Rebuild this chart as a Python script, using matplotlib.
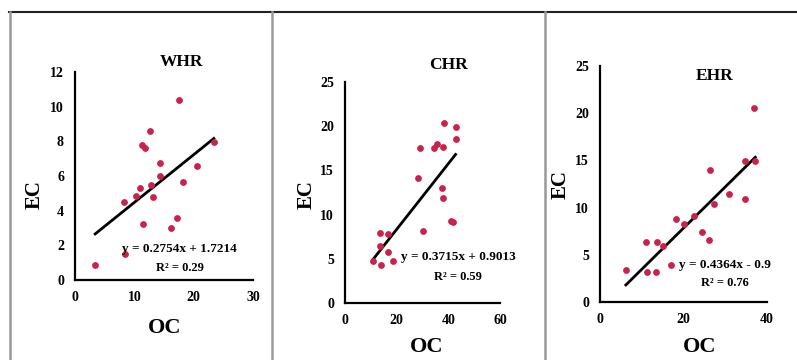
import matplotlib
matplotlib.use("Agg")
import matplotlib.pyplot as plt
import numpy as np
from matplotlib.lines import Line2D

plt.rcParams['font.family'] = ['Liberation Serif', 'DejaVu Serif']

# WHR
whr_oc = [3.4, 8.5, 8.3, 10.3, 11.0, 11.4, 11.3, 11.8, 12.7, 12.8, 13.1, 14.3, 14.4, 16.1, 17.2, 17.6, 18.2, 20.5, 23.4]
whr_ec = [0.87, 1.5, 4.5, 4.87, 5.3, 3.24, 7.8, 7.6, 8.6, 5.5, 4.8, 6.0, 6.76, 3.0, 3.57, 10.4, 5.64, 6.56, 7.95]
# CHR
chr_oc = [10.7, 13.5, 13.5, 13.9, 16.5, 16.5, 18.5, 28.1, 29.0, 30.3, 34.6, 35.7, 37.8, 37.4, 38.1, 38.5, 41.0, 41.7, 42.8, 42.8]
chr_ec = [4.75, 7.9, 6.5, 4.3, 7.85, 5.8, 4.75, 14.15, 17.5, 8.2, 17.5, 17.96, 17.7, 13.0, 11.9, 20.4, 9.3, 9.2, 19.9, 18.6]
# EHR
ehr_oc = [6.2, 11.0, 11.2, 13.6, 13.5, 15.0, 17.0, 18.2, 20.2, 22.4, 24.4, 26.2, 26.4, 27.2, 30.8, 34.8, 34.8, 37.0, 37.2]
ehr_ec = [3.43, 6.36, 3.18, 6.36, 3.18, 5.9, 3.96, 8.76, 8.3, 9.08, 7.42, 6.54, 14.03, 10.4, 11.4, 10.95, 14.9, 20.6, 14.9]

titles = ["WHR", "CHR", "EHR"]
slopes = [0.2754, 0.3715, 0.4364]
intercepts = [1.7214, 0.9013, -0.9]
equations = ["y = 0.2754x + 1.7214", "y = 0.3715x + 0.9013", "y = 0.4364x - 0.9"]
r2_labels = ["R² = 0.29", "R² = 0.59", "R² = 0.76"]
xticks = [[0, 10, 20, 30], [0, 20, 40, 60], [0, 20, 40]]
yticks = [[0, 2, 4, 6, 8, 10, 12], [0, 5, 10, 15, 20, 25], [0, 5, 10, 15, 20, 25]]

W, H = 797, 360
fig = plt.figure(figsize=(W / 100, H / 100), dpi=100)


def px(x, y):
    return x / W, 1 - y / H


# axes boxes in pixels: left, right, bottom, top
boxes = [(75, 253, 280, 72), (345, 500, 303, 82), (600, 767, 302, 66)]
title_pos = [(181, 62), (448, 65), (715, 76)]
eq_pos = [(179, 249), (458, 257), (725, 265)]
r2_pos = [(180, 268), (458, 277), (725, 283)]
ec_pos = [(35, 195), (307, 195), (561, 185)]
oc_pos = [(165, 328), (427, 347), (700, 347)]

data = [(whr_oc, whr_ec), (chr_oc, chr_ec), (ehr_oc, ehr_ec)]

for i in range(3):
    l, r, b, t = boxes[i]
    x0, y0 = px(l, b)
    ax = fig.add_axes([x0, y0, (r - l) / W, (b - t) / H])
    oc, ec = data[i]
    ax.scatter(oc, ec, s=24, color="#c8234a", zorder=3, linewidths=0)
    xs = np.array([min(oc), max(oc)])
    ax.plot(xs, slopes[i] * xs + intercepts[i], color="black", lw=2, zorder=2)
    ax.set_xlim(xticks[i][0], xticks[i][-1])
    ax.set_ylim(yticks[i][0], yticks[i][-1])
    ax.set_xticks(xticks[i])
    ax.set_yticks(yticks[i])
    ax.spines[["top", "right"]].set_visible(False)
    for s in ["left", "bottom"]:
        ax.spines[s].set_linewidth(1.6)
    ax.tick_params(length=0, pad=8, labelsize=10)
    for lab in ax.get_xticklabels() + ax.get_yticklabels():
        lab.set_fontweight("bold")
    ax.patch.set_alpha(0)

    fig.text(*px(*title_pos[i]), titles[i], ha="center", va="center", fontsize=12.5, fontweight="bold")
    fig.text(*px(*eq_pos[i]), equations[i], ha="center", va="center", fontsize=9.5, fontweight="bold")
    fig.text(*px(*r2_pos[i]), r2_labels[i], ha="center", va="center", fontsize=9, fontweight="bold")
    fig.text(*px(*ec_pos[i]), "EC", ha="center", va="center", fontsize=15, fontweight="bold", rotation=90)
    fig.text(*px(*oc_pos[i]), "OC", ha="center", va="center", fontsize=16, fontweight="bold")

# panel frame lines
fig.add_artist(Line2D([9 / W, 1], [1 - 12 / H] * 2, color="#222222", lw=1.5))
for xv in [9.5, 272, 545]:
    fig.add_artist(Line2D([xv / W] * 2, [0, 1 - 12 / H], color="#999999", lw=1.8))

fig.savefig("out.png", dpi=100)
